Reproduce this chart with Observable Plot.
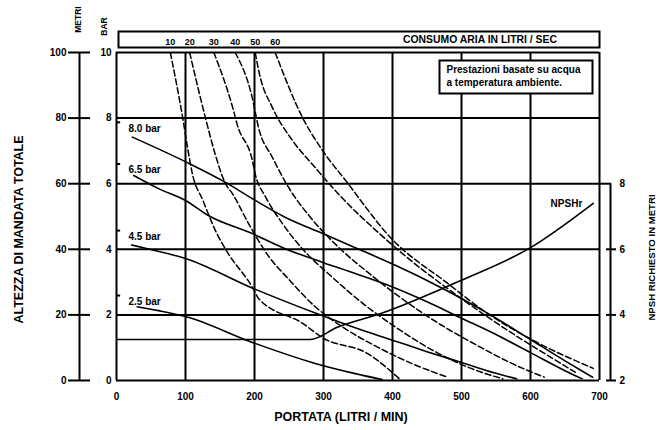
<!DOCTYPE html>
<html>
<head>
<meta charset="utf-8">
<script src="https://cdn.jsdelivr.net/npm/d3@7"></script>
<script src="https://cdn.jsdelivr.net/npm/@observablehq/plot@0.6"></script>
<style>
  html, body { margin: 0; padding: 0; background: white; }
</style>
</head>
<body>
<div id="chart"></div>
<script>
// ---------- data ----------
const flowTicks = [0, 100, 200, 300, 400, 500, 600, 700];
const headTicks = [0, 20, 40, 60, 80, 100];          // METRI
const barLabels = ["0", "2", "4", "6", "8", "10"];    // BAR
const npshTickLabels = ["2", "4", "6", "8"];          // NPSH richiesto (m)

// air inlet pressure curves
const pressureLabels = ["8.0 bar", "6.5 bar", "4.5 bar", "2.5 bar"];
const pressureStart = [78.7, 66, 45.7, 25.9];
const p1Flow = [23, 102, 158, 201, 245, 299, 346, 400, 450, 500, 550, 600, 650, 690];
const p1Head = [74.2, 66.5, 60.4, 54.9, 49.7, 44.8, 40.5, 35.5, 30.5, 25, 19, 12.5, 6, 1];
const p2Flow = [25, 61, 100, 133, 197, 241, 299, 346, 400, 450, 500, 550, 600, 650, 675];
const p2Head = [62.5, 58.5, 54.9, 50.3, 44.8, 40.5, 36, 32.6, 28.5, 24, 19, 14, 8.5, 3, 0.5];
const p3Flow = [22, 42, 100, 199, 290, 348, 400, 450, 500, 550, 580];
const p3Head = [41.3, 40.3, 37.2, 28, 20.4, 15.9, 12.3, 8.8, 5.5, 2.2, 0.5];
const p4Flow = [30, 61, 100, 197, 288, 346, 385];
const p4Head = [22.5, 21.3, 19.5, 11.6, 5.2, 2.1, 0.3];

// air consumption curves (litri / sec)
const airLabels = ["10", "20", "30", "40", "50", "60"];
const a10Flow = [78, 96, 103, 110, 125, 145, 161, 197, 206, 270, 299, 364, 410];
const a10Head = [100, 80, 71, 63, 55, 45, 39, 28.4, 25, 17.4, 13, 8.2, 0.5];
const a20Flow = [106, 129, 143, 158, 168, 191, 220, 249, 288, 330, 380, 430, 480];
const a20Head = [100, 80, 69, 60, 57, 48, 38, 31, 22.5, 16, 10, 5, 1];
const a30Flow = [141, 170, 175, 197, 201, 216, 240, 270, 310, 360, 410, 460, 510, 560];
const a30Head = [100, 82, 78, 67, 63, 56, 48, 40, 32, 23, 15.5, 9, 4, 0.5];
const a40Flow = [172, 197, 206, 226, 249, 280, 320, 370, 420, 470, 520, 570, 620];
const a40Head = [100, 86, 77, 68, 59, 50, 41, 32, 24, 17, 11, 5.5, 1];
const a50Flow = [201, 207, 226, 255, 288, 330, 380, 430, 480, 530, 580, 630, 665];
const a50Head = [100, 93.6, 83.2, 73.2, 64.9, 55, 45, 36, 28, 20.5, 13.5, 7, 2.5];
const a60Flow = [230, 270, 299, 332, 397, 480, 538, 604, 691];
const a60Head = [100, 80, 70, 61, 43.6, 29.6, 20.4, 12.2, 3.7];

// NPSH richiesto (metri)
const npshFlow = [0, 281, 320, 383, 499, 600, 691];
const npshValue = [3.25, 3.25, 3.62, 4.04, 5.05, 6.05, 7.4];

// ---------- build tables ----------
const pressureSeries = [
  {label: pressureLabels[0], start: pressureStart[0], flow: p1Flow, head: p1Head},
  {label: pressureLabels[1], start: pressureStart[1], flow: p2Flow, head: p2Head},
  {label: pressureLabels[2], start: pressureStart[2], flow: p3Flow, head: p3Head},
  {label: pressureLabels[3], start: pressureStart[3], flow: p4Flow, head: p4Head}
];
const airSeries = [
  {label: airLabels[0], flow: a10Flow, head: a10Head},
  {label: airLabels[1], flow: a20Flow, head: a20Head},
  {label: airLabels[2], flow: a30Flow, head: a30Head},
  {label: airLabels[3], flow: a40Flow, head: a40Head},
  {label: airLabels[4], flow: a50Flow, head: a50Head},
  {label: airLabels[5], flow: a60Flow, head: a60Head}
];
const toRows = (series) => series.flatMap(s => s.flow.map((f, i) => ({series: s.label, flow: f, head: s.head[i]})));
const pressureRows = toRows(pressureSeries);
const airRows = toRows(airSeries);
const airTops = airSeries.map(s => ({label: s.label, flow: s.flow[0], head: s.head[0]}));

// NPSH scale: bottom of the right axis is 2 m, 2 m per 20 m of head
const npshToHead = v => (v - 2) * 10;
const npshRows = npshFlow.map((f, i) => ({flow: f, head: npshToHead(npshValue[i])}));
const npshLast = npshRows[npshRows.length - 1];
const npshTickHeads = npshTickLabels.map(l => npshToHead(+l));

const bold = {fontWeight: "bold"};
const centered = {textAnchor: "middle", lineAnchor: "middle"};

const chart = Plot.plot({
  width: 669,
  height: 430,
  marginLeft: 116,
  marginRight: 70,
  marginTop: 52,
  marginBottom: 50,
  style: {fontFamily: "'Liberation Sans', Arial, sans-serif", fontSize: "10px", color: "black", background: "white"},
  x: {domain: [0, 700], axis: null},
  y: {domain: [0, 100], axis: null},
  marks: [
    // grid / frame
    Plot.ruleX(flowTicks, {stroke: "black", strokeWidth: 2}),
    Plot.ruleY(headTicks, {stroke: "black", strokeWidth: 2}),

    // top air-consumption box
    Plot.frame({stroke: "black", strokeWidth: 2, fill: "white", insetTop: -21, insetBottom: 333, insetLeft: 2, insetRight: 0}),
    Plot.text(["CONSUMO ARIA IN LITRI / SEC"], {frameAnchor: "top", dx: 122, dy: -12.5, fontSize: 10.4, ...centered, ...bold}),
    Plot.text(airTops, {x: "flow", y: "head", text: "label", dy: -10, fontSize: 9, ...bold}),

    // curves
    Plot.line(airRows, {x: "flow", y: "head", z: "series", curve: "monotone-x", stroke: "black", strokeWidth: 1.5, strokeDasharray: "6,3", clip: true}),
    Plot.line(pressureRows, {x: "flow", y: "head", z: "series", curve: "monotone-x", stroke: "black", strokeWidth: 1.6, clip: true}),
    Plot.line(npshRows, {x: "flow", y: "head", curve: "monotone-x", stroke: "black", strokeWidth: 1.6, clip: true}),
    Plot.text([npshLast], {x: "flow", y: "head", text: () => "NPSHr", textAnchor: "end", dx: -11, dy: 0, fontSize: 10, ...bold}),

    // pressure labels
    Plot.ruleY(pressureSeries, {y: "start", x1: 0, x2: 6, stroke: "black", strokeWidth: 2}),
    Plot.text(pressureSeries, {y: "start", frameAnchor: "left", text: "label", textAnchor: "start", lineAnchor: "middle", dx: 12, dy: 6, fontSize: 10, ...bold}),

    // note box
    Plot.frame({stroke: "black", strokeWidth: 2, fill: "white", insetLeft: 323, insetRight: 7, insetTop: 8, insetBottom: 287}),
    Plot.text(["Prestazioni basate su acqua\na temperatura ambiente."], {frameAnchor: "top-left", dx: 330, dy: 12, lineAnchor: "top", lineHeight: 1.25, textAnchor: "start", fontSize: 10, ...bold}),

    // x axis
    Plot.axisX(flowTicks, {tickSize: 0, tickPadding: 12, label: null, fontSize: 10, ...bold}),
    Plot.text(["PORTATA (LITRI / MIN)"], {frameAnchor: "bottom", dx: -17, dy: 36, fontSize: 12.5, ...centered, ...bold}),

    // left: METRI axis
    Plot.ruleX([0], {y1: 0, y2: 100, dx: -37, stroke: "black", strokeWidth: 2}),
    Plot.axisY(headTicks, {anchor: "left", tickSize: 22, dx: -26, tickPadding: 2, strokeWidth: 2, label: null, fontSize: 10, ...bold}),
    // left: BAR axis
    Plot.axisY(headTicks, {anchor: "left", tickSize: 0, tickPadding: 5, tickFormat: d => barLabels[headTicks.indexOf(d)], label: null, fontSize: 10, ...bold}),
    Plot.text(["METRI"], {frameAnchor: "top-left", dx: -38, dy: -33, rotate: -90, fontSize: 8.5, ...centered, ...bold}),
    Plot.text(["BAR"], {frameAnchor: "top-left", dx: -12, dy: -26, rotate: -90, fontSize: 8.5, ...centered, ...bold}),
    Plot.text(["ALTEZZA DI MANDATA TOTALE"], {frameAnchor: "left", dx: -98, dy: 13, rotate: -90, fontSize: 12.5, ...centered, ...bold}),

    // right: NPSH axis
    Plot.ruleX([700], {y1: 0, y2: 60, dx: 11, stroke: "black", strokeWidth: 2}),
    Plot.axisY([60], {anchor: "right", tickSize: 11, tickFormat: () => "", strokeWidth: 2, label: null}),
    Plot.axisY(npshTickHeads.slice(0, 3), {anchor: "right", tickSize: 10, dx: 6, tickFormat: () => "", strokeWidth: 2, label: null}),
    Plot.axisY(npshTickHeads, {anchor: "right", tickSize: 0, tickPadding: 20, tickFormat: d => npshTickLabels[npshTickHeads.indexOf(d)], label: null, fontSize: 10, ...bold}),
    Plot.text(["NPSH RICHIESTO IN METRI"], {frameAnchor: "right", dx: 52, dy: 41, rotate: -90, fontSize: 9.6, ...centered, ...bold})
  ]
});

document.getElementById("chart").append(chart);
</script>
</body>
</html>
